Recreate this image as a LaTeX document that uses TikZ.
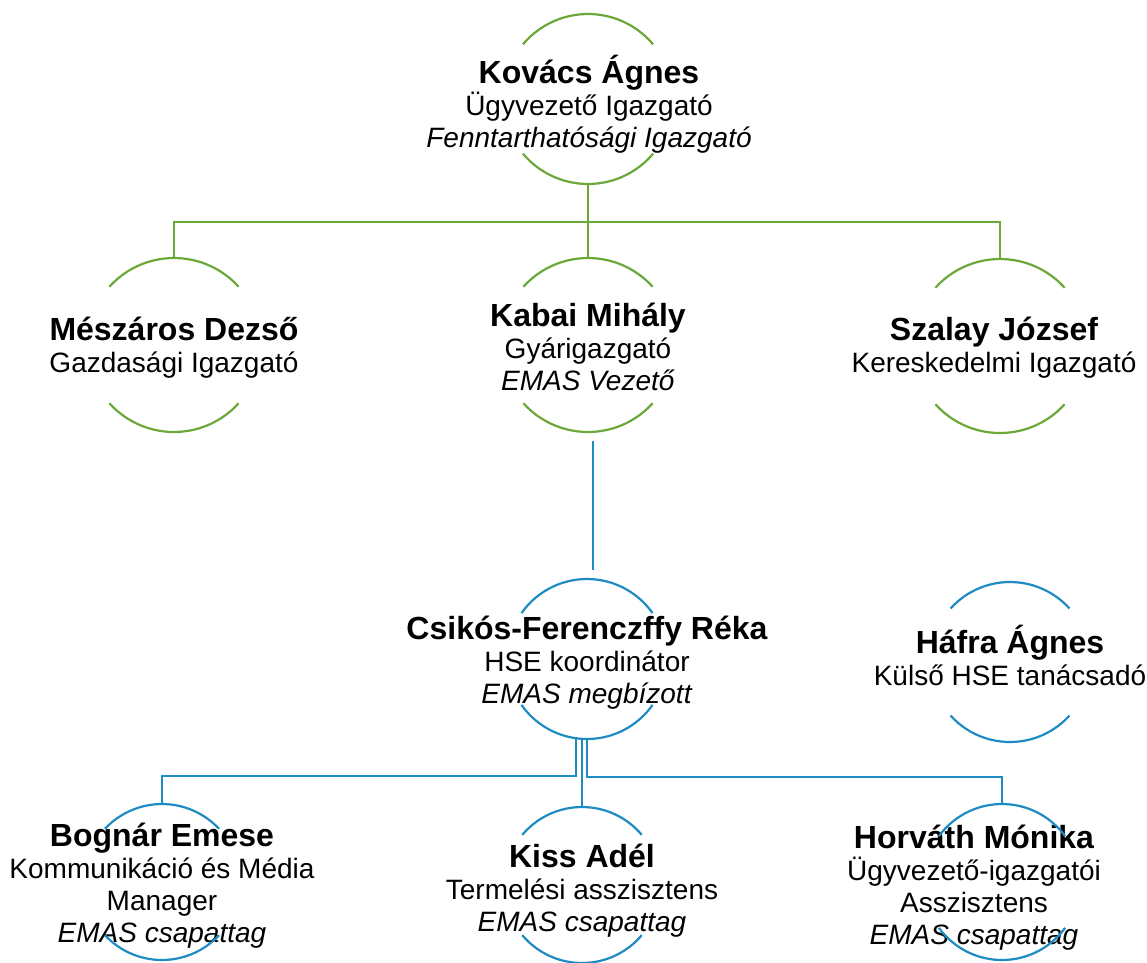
\documentclass[tikz,border=0pt]{standalone}
\usepackage{fontspec}
\setmainfont{Liberation Sans}

\definecolor{leafgreen}{RGB}{106,168,58}
\definecolor{seablue}{RGB}{30,139,195}
\colorlet{lead}{leafgreen}
\colorlet{hse}{seablue}
\newcommand{\who}[1]{{\fontsize{32}{34}\selectfont\bfseries #1}}

\begin{document}
\begin{tikzpicture}[x=1pt, y=1pt,
    ring/.style={circle, minimum size=#1, inner sep=0pt, outer sep=0pt},
    txt/.style={align=center, font=\fontsize{28}{32}\selectfont},
    arcs/.style={line width=2.2pt},
    link/.style={line width=1.8pt}]
  \useasboundingbox (0,0) rectangle (1147,-962);

  \node[ring=170] (kov) at (588,-99)  {};
  \node[ring=174] (mes) at (174,-345) {};
  \node[ring=174] (kab) at (588,-345) {};
  \node[ring=174] (sza) at (1000,-346) {};
  \node[ring=160] (csi) at (587,-659) {};
  \node[ring=160] (haf) at (1010,-662) {};
  \node[ring=156] (bog) at (162,-882) {};
  \node[ring=156] (kis) at (582,-885) {};
  \node[ring=156] (hor) at (1002,-882) {};

  \node[txt] at (589,-104)  {\who{Kovács Ágnes}\\Ügyvezető Igazgató\\\textit{Fenntarthatósági Igazgató}};
  \node[txt] at (174,-348)  {\who{Mészáros Dezső}\\Gazdasági Igazgató};
  \node[txt] at (588,-347)  {\who{Kabai Mihály}\\Gyárigazgató\\\textit{EMAS Vezető}};
  \node[txt] at (994,-348)  {\who{Szalay József}\\Kereskedelmi Igazgató};
  \node[txt] at (587,-663)  {\who{Csikós-Ferenczffy Réka}\\HSE koordinátor\\\textit{EMAS megbízott}};
  \node[txt] at (1010,-655) {\who{Háfra Ágnes}\\Külső HSE tanácsadó};
  \node[txt] at (162,-886)  {\who{Bognár Emese}\\Kommunikáció és Média\\Manager\\\textit{EMAS csapattag}};
  \node[txt] at (582,-891)  {\who{Kiss Adél}\\Termelési asszisztens\\\textit{EMAS csapattag}};
  \node[txt] at (974,-888)  {\who{Horváth Mónika}\\Ügyvezető-igazgatói\\Asszisztens\\\textit{EMAS csapattag}};

  % arcs above and below each name
  \draw[arcs, color=lead] (kov.140) arc[start angle=140, end angle=40, radius=85];
  \draw[arcs, color=lead] (kov.220) arc[start angle=220, end angle=320, radius=85];
  \draw[arcs, color=lead] (mes.138) arc[start angle=138, end angle=42, radius=87];
  \draw[arcs, color=lead] (mes.222) arc[start angle=222, end angle=318, radius=87];
  \draw[arcs, color=lead] (kab.138) arc[start angle=138, end angle=42, radius=87];
  \draw[arcs, color=lead] (kab.222) arc[start angle=222, end angle=318, radius=87];
  \draw[arcs, color=lead] (sza.138) arc[start angle=138, end angle=42, radius=87];
  \draw[arcs, color=lead] (sza.222) arc[start angle=222, end angle=318, radius=87];
  \draw[arcs, color=hse] (csi.145) arc[start angle=145, end angle=35, radius=80];
  \draw[arcs, color=hse] (csi.215) arc[start angle=215, end angle=325, radius=80];
  \draw[arcs, color=hse] (haf.138) arc[start angle=138, end angle=42, radius=80];
  \draw[arcs, color=hse] (haf.222) arc[start angle=222, end angle=318, radius=80];
  \draw[arcs, color=hse] (bog.137) arc[start angle=137, end angle=43, radius=78];
  \draw[arcs, color=hse] (bog.223) arc[start angle=223, end angle=317, radius=78];
  \draw[arcs, color=hse] (kis.140) arc[start angle=140, end angle=40, radius=78];
  \draw[arcs, color=hse] (kis.220) arc[start angle=220, end angle=320, radius=78];
  \draw[arcs, color=hse] (hor.144) arc[start angle=144, end angle=36, radius=78];
  \draw[arcs, color=hse] (hor.216) arc[start angle=216, end angle=324, radius=78];

  % links
  \coordinate (gbus) at (588,-222);
  \draw[link, color=lead] (kov.south) -- (gbus);
  \draw[link, color=lead] (gbus) -| (mes.north);
  \draw[link, color=lead] (gbus) -- (kab.north);
  \draw[link, color=lead] (gbus) -| (sza.north);
  \draw[link, color=hse] ([xshift=5pt, yshift=-9pt]kab.south) -- ([xshift=6pt, yshift=9pt]csi.north);
  \coordinate (lbus) at (576,-776);
  \coordinate (rbus) at (587,-777);
  \draw[link, color=hse] ([xshift=-11pt]csi.south) -- (lbus) -| (bog.north);
  \draw[link, color=hse] (csi.south) -- (rbus) -| (hor.north);
  \draw[link, color=hse] ([xshift=-5pt]csi.south) -- (kis.north);
\end{tikzpicture}
\end{document}
